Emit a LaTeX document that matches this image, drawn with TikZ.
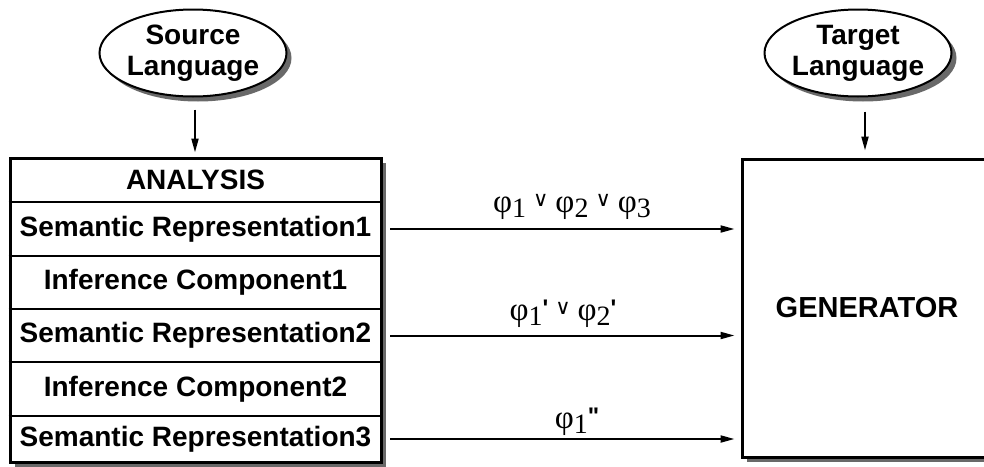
\documentclass[tikz,border=0pt]{standalone}
\usepackage{fontspec}
\setmainfont{Liberation Serif}
\setsansfont{Liberation Sans}
\newfontfamily\primefont{Liberation Sans}[Ligatures=TeXOff]
\newfontfamily\symfont{DejaVu Sans}
\usetikzlibrary{arrows.meta,shapes.geometric,shadows}
\newcommand\fsub[1]{\raisebox{-5pt}{\fontsize{28}{28}\selectfont #1}}
\newcommand\vor{\hspace{7pt}\raisebox{6pt}{\symfont\fontsize{21}{21}\selectfont ∨}\hspace{7pt}}
\newcommand\prm[1]{\raisebox{4pt}{\primefont\bfseries\fontsize{24}{24}\selectfont #1}}
\tikzset{
  lbl/.style={font=\sffamily\bfseries\fontsize{28}{31}\selectfont},
  shad/.style={drop shadow={shadow xshift=5pt,shadow yshift=-5pt,fill=black!65,opacity=.9}},
  oval/.style={ellipse, draw, line width=2pt, fill=white, minimum height=87pt, inner sep=0pt, align=center, lbl, shad},
  bigbox/.style={draw, line width=3pt, fill=white, inner sep=0pt, shad},
  row/.style={minimum width=371pt, inner sep=0pt, lbl},
  sep/.style={line width=1.5pt},
  arr/.style={line width=2pt, -{Triangle[length=14pt,width=7pt]}},
  form/.style={font=\fontsize{33}{34}\selectfont, inner sep=0pt, anchor=base},
}
\begin{document}
\begin{tikzpicture}[x=1pt,y=-1pt]
\useasboundingbox (0,0) rectangle (984,466);
% source & target
\node[oval, minimum width=180pt] (src) at (193,53) {Source\\Language};
\node[oval, minimum width=168pt] (tgt) at (858,53) {Target\\Language};
% analysis box
\node[bigbox, minimum width=371pt, minimum height=304pt] (ana) at (195.5,310) {};
\node[row, minimum height=44pt] (r0) at (195.5,180) {ANALYSIS};
\node[row, minimum height=54pt] (r1) at (195.5,229) {Semantic Representation1};
\node[row, minimum height=53pt] (r2) at (195.5,282.5) {Inference Component1};
\node[row, minimum height=53pt] (r3) at (195.5,335.5) {Semantic Representation2};
\node[row, minimum height=54pt] (r4) at (195.5,389) {Inference Component2};
\node[row, minimum height=46pt] (r5) at (195.5,439) {Semantic Representation3};
\foreach \a/\b in {r0/r1,r1/r2,r2/r3,r3/r4,r4/r5}
  \draw[sep] (\a.south -| ana.west) -- (\a.south -| ana.east);
% generator
\node[bigbox, minimum width=250pt, minimum height=298pt, lbl, font=\sffamily\bfseries\fontsize{29}{31}\selectfont] (gen) at (867,308) {GENERATOR};
% connectors
\draw[arr, shorten >=4pt] ([xshift=2pt,yshift=-12pt]src.south) coordinate (ss) -- (ss |- ana.north);
\draw[arr, shorten >=7pt] ([xshift=7pt,yshift=-14pt]tgt.south) coordinate (ts) -- (ts |- gen.north);
\draw[arr, shorten >=6pt] ([xshift=9pt]r1.east) -- (r1.east -| gen.west);
\draw[arr, shorten >=6pt] ([xshift=9pt]r3.east) -- (r3.east -| gen.west);
\draw[arr, shorten >=6pt] ([xshift=9pt]r5.east) -- (r5.east -| gen.west);
% labels
\node[form] (f1) at (572,212) {φ\fsub{1}\vor φ\fsub{2}\vor φ\fsub{3}};
\node[form] (f2) at (563,320) {φ\fsub{1}\prm{'}\vor φ\fsub{2}\prm{'}};
\node[form] (f3) at (577,428) {φ\fsub{1}\prm{"}};
\end{tikzpicture}
\end{document}
